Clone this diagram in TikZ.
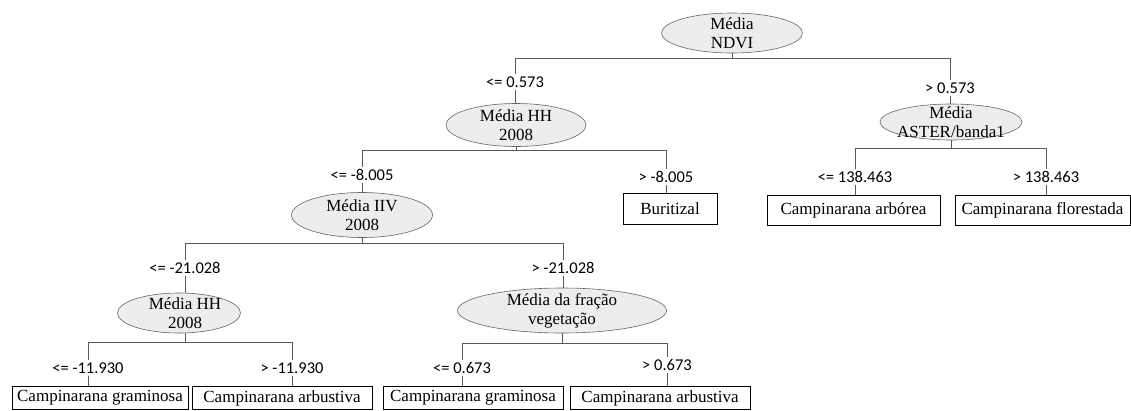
\documentclass[tikz,border=0pt]{standalone}
\usepackage{fontspec}
\setmainfont{Liberation Serif}
\newfontfamily\labfont{Carlito}
\usetikzlibrary{shapes.geometric}
\begin{document}
\begin{tikzpicture}[x=1pt,y=-1pt,
  split/.style={ellipse, draw=black!60, fill=black!7, line width=0.6pt, inner sep=0pt},
  splittext/.style={font=\fontsize{17}{19}\selectfont, align=center, inner sep=0pt},
  leaf/.style={draw=black, line width=0.9pt, inner sep=0pt, font=\fontsize{17}{19}\selectfont},
  cond/.style={font=\labfont\fontsize{16.5}{18}\selectfont, inner sep=2pt},
  conn/.style={draw=black!65, line width=0.7pt}]
\path[use as bounding box] (0,0) rectangle (1131,410);

% split nodes
\node[split, minimum width=141, minimum height=40] (root) at (732,33) {};
\node[splittext] (rootT) at (root.center) {Média\\NDVI};
\node[split, minimum width=140, minimum height=43] (hh1) at (516,125) {};
\node[splittext] (hh1T) at (hh1.center) {Média HH\\2008};
\node[split, minimum width=142, minimum height=36] (aster) at (951,122) {};
\node[splittext] (asterT) at (aster.center) {Média\\ASTER/banda1};
\node[split, minimum width=141, minimum height=45] (iiv) at (362,215) {};
\node[splittext] (iivT) at (iiv.center) {Média IIV\\2008};
\node[split, minimum width=123, minimum height=40] (hh2) at (179,313) {};
\node[splittext] (hh2T) at (185,313) {Média HH\\2008};
\node[split, minimum width=209, minimum height=45] (frac) at (562,310.5) {};
\node[splittext] (fracT) at (frac.center) {Média da fração\\vegetação};

% condition labels
\node[cond] (c1) at (515,82) {<= 0.573};
\node[cond] (c2) at (950,88) {> 0.573};
\node[cond] (c3) at (362,175) {<= -8.005};
\node[cond] (c4) at (666,177) {> -8.005};
\node[cond] (c5) at (855,177) {<= 138.463};
\node[cond] (c6) at (1046,177) {> 138.463};
\node[cond] (c7) at (185,268) {<= -21.028};
\node[cond] (c8) at (563,268) {> -21.028};
\node[cond] (c9) at (88,368) {<= -11.930};
\node[cond] (c10) at (292,368) {> -11.930};
\node[cond] (c11) at (462,368) {<= 0.673};
\node[cond] (c12) at (667,365) {> 0.673};

% leaves
\node[leaf, minimum width=94, minimum height=31] (buri) at (670,208.5) {Buritizal};
\node[leaf, minimum width=173, minimum height=30] (arb) at (853.5,210) {Campinarana arbórea};
\node[leaf, minimum width=175, minimum height=30] (flo) at (1042.5,210) {Campinarana florestada};
\node[leaf, minimum width=176, minimum height=23] (g1) at (100,398) {Campinarana graminosa};
\node[leaf, minimum width=180, minimum height=23] (a1) at (282,398) {Campinarana arbustiva};
\node[leaf, minimum width=180, minimum height=23] (g2) at (473,398) {Campinarana graminosa};
\node[leaf, minimum width=180, minimum height=23] (a2) at (660,398) {Campinarana arbustiva};

% connectors: parent -> condition
\draw[conn] (root.south) -- ++(0,5) -| (c1.north);
\draw[conn] (root.south) -- ++(0,5) -| (c2.north);
\draw[conn] (hh1.south) -- ++(0,3.5) -| (c3.north);
\draw[conn] (hh1.south) -- ++(0,3.5) -| (c4.north);
\draw[conn] (aster.south) -- ++(0,8) -| (c5.north);
\draw[conn] (aster.south) -- ++(0,8) -| (c6.north);
\draw[conn] (iiv.south) -- ++(0,5.5) -| (c7.north);
\draw[conn] (iiv.south) -- ++(0,5.5) -| (c8.north);
\draw[conn] (c7.south |- hh2.south) -- ++(0,9) -| (c9.north);
\draw[conn] (c7.south |- hh2.south) -- ++(0,9) -| (c10.north);
\draw[conn] (frac.south) -- ++(0,10) -| (c11.north);
\draw[conn] (frac.south) -- ++(0,10) -| (c12.north);

% connectors: condition -> child
\draw[conn] (c1.south) -- (c1.south |- hh1.north);
\draw[conn] (c2.south) -- (c2.south |- aster.north);
\draw[conn] (c3.south) -- (c3.south |- iiv.north);
\draw[conn] (c4.south) -- (c4.south |- buri.north);
\draw[conn] (c5.south) -- (c5.south |- arb.north);
\draw[conn] (c6.south) -- (c6.south |- flo.north);
\draw[conn] (c7.south) -- (c7.south |- hh2.north);
\draw[conn] (c8.south) -- (c8.south |- frac.north);
\draw[conn] (c9.south) -- (c9.south |- g1.north);
\draw[conn] (c10.south) -- (c10.south |- a1.north);
\draw[conn] (c11.south) -- (c11.south |- g2.north);
\draw[conn] (c12.south) -- (c12.south |- a2.north);
\end{tikzpicture}
\end{document}
